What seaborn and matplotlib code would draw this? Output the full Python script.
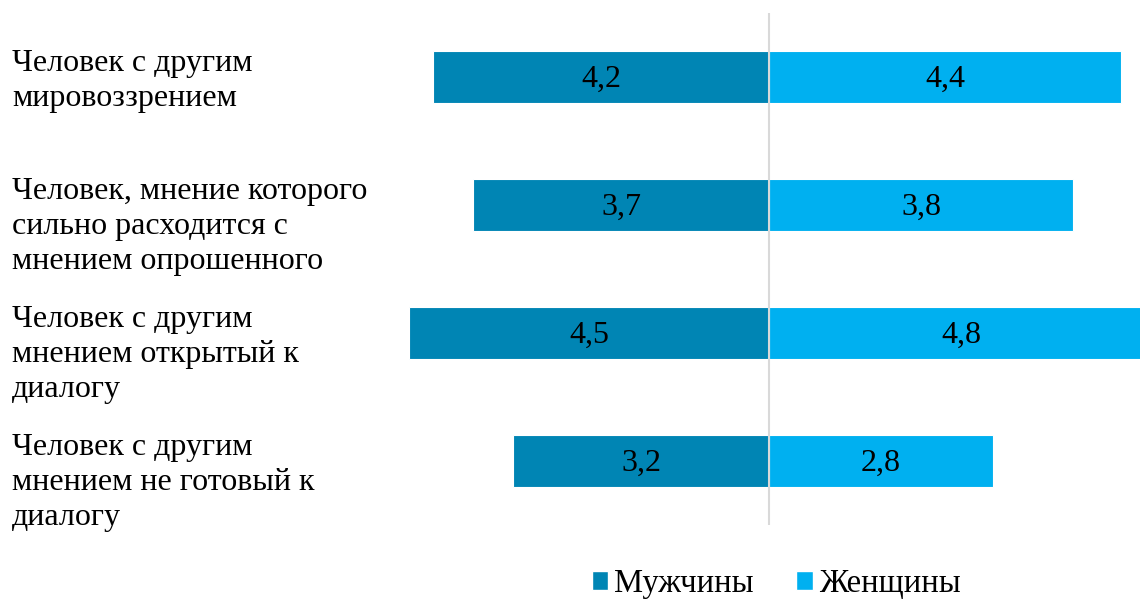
import matplotlib
matplotlib.use("Agg")
import matplotlib.pyplot as plt
import matplotlib.transforms as mtransforms
from matplotlib.patches import Patch
import seaborn as sns
import pandas as pd

categories = [
    "Человек с другим\nмировоззрением",
    "Человек, мнение которого\nсильно расходится с\nмнением опрошенного",
    "Человек с другим\nмнением открытый к\nдиалогу",
    "Человек с другим\nмнением не готовый к\nдиалогу",
]
men = [4.2, 3.7, 4.5, 3.2]
women = [4.4, 3.8, 4.8, 2.8]
series_names = ["Мужчины", "Женщины"]
colors = ["#0085B4", "#00B0F0"]

sns.set_theme(style="white")
plt.rcParams["font.family"] = ["Liberation Serif", "DejaVu Serif"]
plt.rcParams["text.color"] = "black"

rows = []
for c, m, w in zip(categories, men, women):
    rows.append({"cat": c, "sex": series_names[0], "val": -m, "abs": m})
    rows.append({"cat": c, "sex": series_names[1], "val": w, "abs": w})
df = pd.DataFrame(rows)

fig = plt.figure(figsize=(11.4, 6.02), dpi=100)
ax = fig.add_axes([380 / 1140, 1 - 525 / 602, 760 / 1140, 512 / 602])

sns.barplot(data=df, x="val", y="cat", hue="sex", dodge=False, width=0.4,
            palette=colors, orient="h", ax=ax, legend=False,
            edgecolor="white", linewidth=0.8, saturation=1)

ax.set_xlim(-(769 - 380) / 80, (1140 - 769) / 80)
ax.set_ylim(3.5, -0.5)
ax.axvline(0, color="#D9D9D9", lw=1.5, zorder=5)

for i, (m, w) in enumerate(zip(men, women)):
    ax.text(-m / 2, i + 0.02, f"{m:.1f}".replace(".", ","), ha="center", va="center",
            fontsize=23, color="black", zorder=6)
    ax.text(w / 2, i + 0.02, f"{w:.1f}".replace(".", ","), ha="center", va="center",
            fontsize=23, color="black", zorder=6)

ax.set_yticks([])
ax.set_xticks([])
ax.set_xlabel("")
ax.set_ylabel("")
for s in ax.spines.values():
    s.set_visible(False)

trans = mtransforms.blended_transform_factory(fig.transFigure, ax.transData)
for i, c in enumerate(categories):
    t = mtransforms.offset_copy(trans, fig=fig, x=0, y=28 * 72 / 100, units="points")
    ax.text(12 / 1140, i, c, transform=t, ha="left", va="top", fontsize=23,
            linespacing=1.27, color="black")

handles = [Patch(facecolor=colors[0]), Patch(facecolor=colors[1])]
leg = fig.legend(handles, series_names, loc="center", bbox_to_anchor=(0.681, 1 - 584 / 602),
                 ncol=2, frameon=False, fontsize=23.5, handlelength=0.5, handleheight=0.5,
                 handletextpad=0.2, columnspacing=1.3, borderpad=0.1)
for txt in leg.get_texts():
    txt.set_color("black")

fig.savefig("out.png", dpi=100)
